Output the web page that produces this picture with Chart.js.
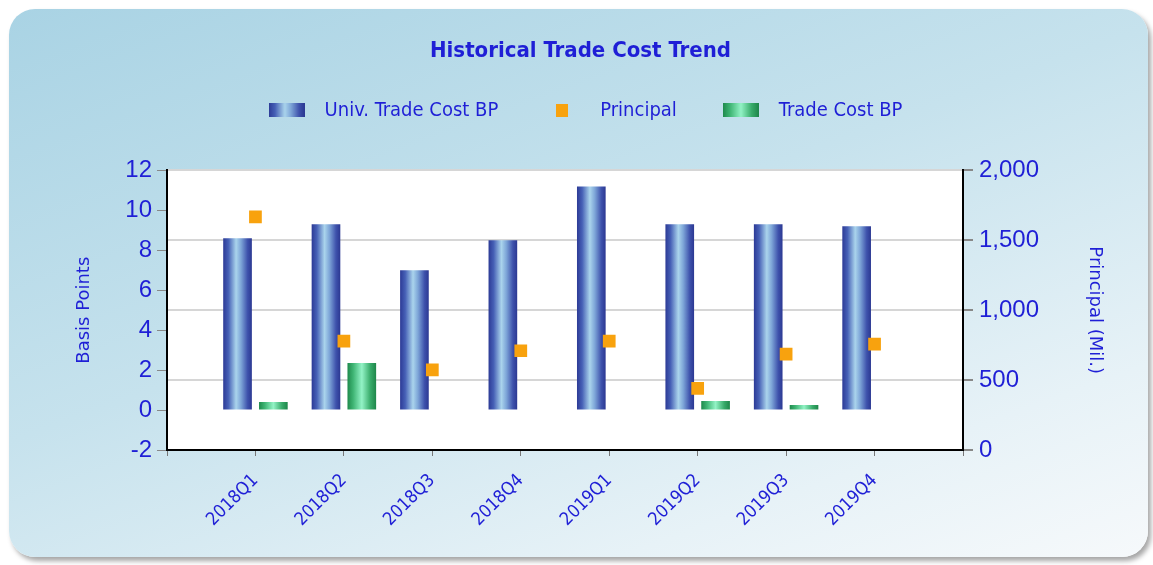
<!DOCTYPE html>
<html>
<head>
<meta charset="utf-8">
<title>Historical Trade Cost Trend</title>
<script src="https://cdn.jsdelivr.net/npm/chart.js@4.4.1/dist/chart.umd.min.js"></script>
<style>
    html, body { margin: 0; padding: 0; background: #fff; }
    #wrap { position: relative; width: 1153px; height: 565px; overflow: hidden; }
    #panel {
        position: absolute; left: 9px; top: 9px; width: 1139px; height: 548px;
        border-radius: 26px;
        background: linear-gradient(160deg, #a9d3e4 0%, #c6e2ed 45%, #e7f2f7 80%, #f6f9fb 100%);
        box-shadow: 3px 4px 5px rgba(0, 0, 0, 0.35);
    }
    #chart { position: absolute; left: 0; top: 0; }
</style>
</head>
<body>
<div id="wrap">
    <div id="panel"></div>
    <canvas id="chart" width="1153" height="565"></canvas>
</div>
<script>
// data
const quarters = ['2018Q1', '2018Q2', '2018Q3', '2018Q4', '2019Q1', '2019Q2', '2019Q3', '2019Q4'];
const univTradeCost = [8.6, 9.3, 7.0, 8.5, 11.2, 9.3, 9.3, 9.2];
const tradeCost = [0.4, 2.35, null, null, null, 0.45, 0.25, null];
const principal = [1668, 778, 573, 710, 778, 440, 686, 758];

const bpTicks = { min: -2, max: 12, step: 2 };
const principalTicks = { min: 0, max: 2000, step: 500 };

const BLUE_TEXT = '#1f1fd6';
const blueStops = [[0, '#2c3a96'], [0.18, '#4660b6'], [0.45, '#aad4ec'], [0.62, '#7ea6d8'], [0.85, '#3e52ac'], [1, '#2b3892']];
const greenStops = [[0, '#1f8a4c'], [0.2, '#3fb574'], [0.5, '#93f3c6'], [0.8, '#38ab6a'], [1, '#1e864a']];

// one empty slot each side so the quarters sit on the inner ticks
const xLabels = ['', ...quarters, ''];
const pad = arr => [null, ...arr, null];

function legendIcon(w, h, stops, solid) {
    const c = document.createElement('canvas');
    c.width = w; c.height = h;
    const g = c.getContext('2d');
    if (solid) {
        g.fillStyle = solid;
    } else {
        const grad = g.createLinearGradient(0, 0, w, 0);
        stops.forEach(([p, col]) => grad.addColorStop(p, col));
        g.fillStyle = grad;
    }
    g.fillRect(0, 0, w, h);
    return c;
}

// horizontal shading inside every bar
const barShading = {
    id: 'barShading',
    beforeDatasetsDraw(chart) {
        const ctx = chart.ctx;
        chart.data.datasets.forEach((ds, i) => {
            if (!ds.stops) return;
            chart.getDatasetMeta(i).data.forEach(el => {
                if (!isFinite(el.x) || !isFinite(el.width)) return;
                const l = el.x - el.width / 2;
                const g = ctx.createLinearGradient(l, 0, l + el.width, 0);
                ds.stops.forEach(([p, c]) => g.addColorStop(p, c));
                el.options = Object.assign({}, el.options, { backgroundColor: g });
            });
        });
    }
};

const plotBackground = {
    id: 'plotBackground',
    beforeDraw(chart) {
        const { ctx, chartArea: a } = chart;
        ctx.save();
        ctx.fillStyle = '#ffffff';
        ctx.fillRect(a.left, a.top, a.right - a.left, a.bottom - a.top);
        ctx.restore();
    }
};

const ctx = document.getElementById('chart').getContext('2d');
new Chart(ctx, {
    data: {
        labels: xLabels,
        datasets: [{
            type: 'bar',
            label: 'Univ. Trade Cost BP',
            data: pad(univTradeCost),
            yAxisID: 'y',
            backgroundColor: '#4660b6',
            stops: blueStops,
            legendIcon: legendIcon(36, 14, blueStops),
            categoryPercentage: 0.81,
            barPercentage: 0.8
        }, {
            type: 'line',
            label: 'Principal',
            data: pad(principal),
            yAxisID: 'y1',
            showLine: false,
            pointStyle: 'rect',
            pointRadius: 9,
            pointBackgroundColor: '#f8a20e',
            pointBorderWidth: 0,
            order: -1,
            legendIcon: legendIcon(12, 13, null, '#f8a20e')
        }, {
            type: 'bar',
            label: 'Trade Cost BP',
            data: pad(tradeCost),
            yAxisID: 'y',
            backgroundColor: '#3fb574',
            stops: greenStops,
            legendIcon: legendIcon(36, 14, greenStops),
            categoryPercentage: 0.81,
            barPercentage: 0.8
        }]
    },
    options: {
        responsive: false,
        animation: false,
        layout: { padding: { top: 24, left: 52, right: 44, bottom: 0 } },
        plugins: {
            title: {
                display: true,
                text: 'Historical Trade Cost Trend',
                color: BLUE_TEXT,
                font: { family: 'DejaVu Sans Condensed', size: 22, weight: 'bold' },
                padding: { top: 14, bottom: 0 }
            },
            legend: {
                labels: {
                    usePointStyle: true,
                    pointStyleWidth: 56,
                    padding: 36,
                    color: BLUE_TEXT,
                    font: { family: 'DejaVu Sans Condensed', size: 20 },
                    generateLabels: chart => chart.data.datasets.map((ds, i) => ({
                        text: ds.label,
                        pointStyle: ds.legendIcon,
                        fontColor: BLUE_TEXT,
                        fillStyle: 'transparent',
                        strokeStyle: 'transparent',
                        lineWidth: 0,
                        hidden: false,
                        datasetIndex: i
                    }))
                }
            },
            tooltip: { enabled: false }
        },
        scales: {
            x: {
                offset: false,
                afterFit: s => { s.height = 115; },
                border: { color: '#000', width: 2 },
                grid: { offset: false, drawOnChartArea: false, tickLength: 6, tickColor: '#777' },
                ticks: {
                    color: BLUE_TEXT,
                    font: { family: 'DejaVu Sans Condensed', size: 18 },
                    minRotation: 45,
                    maxRotation: 45,
                    autoSkip: false,
                    padding: 14
                }
            },
            // empty band between the legend and the plot
            spacer: {
                type: 'category',
                position: 'top',
                labels: xLabels,
                afterFit: s => { s.height = 40; },
                grid: { display: false },
                border: { display: false },
                ticks: { display: false }
            },
            y: {
                position: 'left',
                min: bpTicks.min,
                max: bpTicks.max,
                afterFit: s => { s.width = 115; },
                border: { color: '#000', width: 2 },
                grid: { drawOnChartArea: false, tickLength: 10, tickColor: '#888' },
                ticks: {
                    stepSize: bpTicks.step,
                    color: BLUE_TEXT,
                    font: { family: 'Liberation Sans', size: 24 },
                    padding: 5
                },
                title: {
                    display: true,
                    text: 'Basis Points',
                    color: BLUE_TEXT,
                    font: { family: 'DejaVu Sans', size: 18 },
                    padding: { top: 22, bottom: 0 }
                }
            },
            y1: {
                position: 'right',
                min: principalTicks.min,
                max: principalTicks.max,
                afterFit: s => { s.width = 146; },
                border: { color: '#000', width: 2 },
                grid: { drawOnChartArea: true, color: '#d6d6d6', lineWidth: 2, tickLength: 10, tickColor: '#888' },
                ticks: {
                    stepSize: principalTicks.step,
                    color: BLUE_TEXT,
                    font: { family: 'Liberation Sans', size: 24 },
                    padding: 6
                },
                title: {
                    display: true,
                    text: 'Principal (Mil.)',
                    color: BLUE_TEXT,
                    font: { family: 'DejaVu Sans', size: 18 },
                    padding: { top: 4, bottom: 0 }
                }
            }
        }
    },
    plugins: [plotBackground, barShading]
});
</script>
</body>
</html>
